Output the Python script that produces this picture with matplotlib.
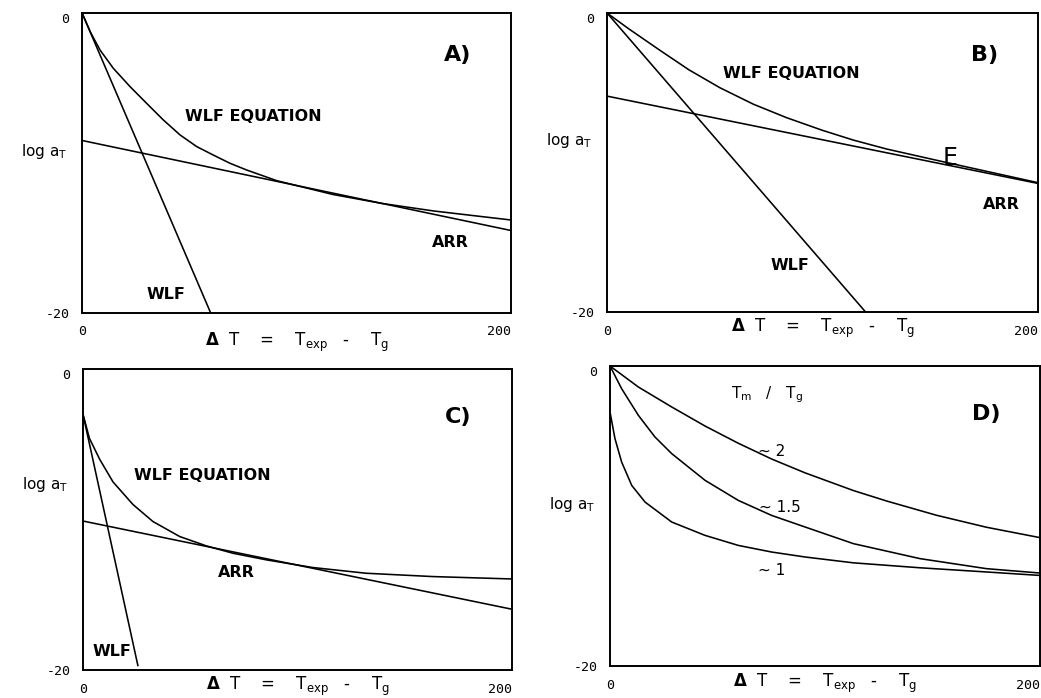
import matplotlib
matplotlib.use("Agg")
import matplotlib.pyplot as plt

# ---------------- data ----------------
# Panel A
a_wlf_x = [0, 60]
a_wlf_y = [0, -20]
a_arr_x = [0, 200]
a_arr_y = [-8.5, -14.5]
a_eq_x = [0, 4, 8.4, 14.6, 22.4, 30.1, 37.9, 45.7, 53.5, 61.2, 69.0, 76.8, 90.8, 117, 140, 164, 200]
a_eq_y = [0, -1.3, -2.47, -3.69, -4.91, -6.02, -7.13, -8.13, -8.91, -9.47, -10.02, -10.47,
          -11.18, -12.1, -12.7, -13.2, -13.8]

# Panel B
b_wlf_x = [0, 120]
b_wlf_y = [0, -20]
b_arr_x = [0, 200]
b_arr_y = [-5.56, -11.4]
b_eq_x = [0, 10, 24.5, 38, 52.4, 67.9, 83.3, 100, 114.3, 129.8, 156, 200]
b_eq_y = [0, -1.05, -2.49, -3.8, -5.0, -6.1, -7.0, -7.85, -8.5, -9.1, -9.95, -11.35]

# Panel C
c_wlf_x = [0, 25.6]
c_wlf_y = [-3.0, -19.7]
c_arr_x = [0, 200]
c_arr_y = [-10.1, -15.96]
c_eq_x = [0, 3, 7.8, 14.0, 23.3, 32.6, 45.1, 57.5, 69.9, 85.5, 107.2, 132, 163, 200]
c_eq_y = [-3.0, -4.6, -6.0, -7.5, -9.0, -10.13, -11.13, -11.75, -12.24, -12.68, -13.19,
          -13.57, -13.79, -13.95]

# Panel D  (T_m / T_g ~ 2, ~ 1.5, ~ 1)
d_x2 = [0, 13.2, 28.7, 44.2, 59.7, 75.2, 90.7, 113.2, 128.7, 151.9, 175.2, 200]
d_y2 = [0, -1.4, -2.73, -4.0, -5.15, -6.2, -7.12, -8.3, -9.0, -9.95, -10.75, -11.44]
d_x15 = [0, 5.4, 13.2, 20.9, 28.7, 44.2, 59.7, 75.2, 90.7, 113.2, 144.2, 175.2, 200]
d_y15 = [0, -1.51, -3.29, -4.73, -5.84, -7.62, -8.96, -9.96, -10.73, -11.84, -12.84, -13.51, -13.8]
d_x1 = [0, 2.3, 5.4, 10.1, 16.3, 28.7, 44.2, 59.7, 75.2, 90.7, 113.2, 144.2, 175.2, 200]
d_y1 = [-3.07, -4.84, -6.4, -7.96, -9.07, -10.4, -11.29, -11.96, -12.4, -12.73, -13.12,
        -13.45, -13.73, -13.96]

y_ticks = [0, -20]
x_ticks = [0, 200]
x_label = r"$\mathbf{\Delta}$  T    =    T$_{\mathrm{exp}}$   -    T$_{\mathrm{g}}$"
y_label = r"log a$_{\mathrm{T}}$"

# ---------------- figure ----------------
fig = plt.figure(figsize=(10.41, 6.98), dpi=100)
positions = {
    "A": [0.0788, 0.5516, 0.412, 0.4298],
    "B": [0.5831, 0.5530, 0.414, 0.4284],
    "C": [0.0797, 0.0401, 0.412, 0.4312],
    "D": [0.5860, 0.0458, 0.413, 0.4298],
}
lw = 1.15
lab_kw = dict(fontsize=11.5, fontweight="bold", ha="center", va="center", color="black")


def setup(ax, ylab_y, xlab_y):
    ax.set_xlim(0, 200)
    ax.set_ylim(-20, 0)
    ax.set_xticks(x_ticks)
    ax.set_yticks(y_ticks)
    ax.set_xticklabels([str(v) for v in x_ticks], fontsize=9.5, family="DejaVu Sans Mono")
    ax.set_yticklabels([str(v) for v in y_ticks], fontsize=9.5, family="DejaVu Sans Mono")
    ax.tick_params(length=0, pad=9)
    ax.get_xticklabels()[-1].set_ha("right")
    ax.get_yticklabels()[0].set_va("top")
    for s in ax.spines.values():
        s.set_linewidth(1.4)
    ax.text(0.5, xlab_y, x_label, transform=ax.transAxes, fontsize=12,
            ha="center", va="center")
    ax.text(-0.035, ylab_y, y_label, transform=ax.transAxes, fontsize=11,
            ha="right", va="center")


axA = fig.add_axes(positions["A"])
axA.plot(a_wlf_x, a_wlf_y, color="black", lw=lw)
axA.plot(a_arr_x, a_arr_y, color="black", lw=lw)
axA.plot(a_eq_x, a_eq_y, color="black", lw=lw)
setup(axA, 0.537, -0.097)
axA.text(80, -6.93, "WLF EQUATION", **lab_kw)
axA.text(39, -18.8, "WLF", **lab_kw)
axA.text(171.6, -15.3, "ARR", **lab_kw)
axA.text(0.875, 0.86, "A)", transform=axA.transAxes, fontsize=16, fontweight="bold",
         ha="center", va="center")

axB = fig.add_axes(positions["B"])
axB.plot(b_wlf_x, b_wlf_y, color="black", lw=lw)
axB.plot(b_arr_x, b_arr_y, color="black", lw=lw)
axB.plot(b_eq_x, b_eq_y, color="black", lw=lw)
setup(axB, 0.575, -0.054)
axB.text(85.4, -4.08, "WLF EQUATION", **lab_kw)
axB.text(85, -16.9, "WLF", **lab_kw)
axB.text(183, -12.8, "ARR", **lab_kw)
axB.text(159, -9.7, "E", fontsize=17, ha="center", va="center")
axB.text(0.875, 0.86, "B)", transform=axB.transAxes, fontsize=16, fontweight="bold",
         ha="center", va="center")

axC = fig.add_axes(positions["C"])
axC.plot(c_wlf_x, c_wlf_y, color="black", lw=lw)
axC.plot(c_arr_x, c_arr_y, color="black", lw=lw)
axC.plot(c_eq_x, c_eq_y, color="black", lw=lw)
setup(axC, 0.615, -0.056)
axC.text(55.5, -7.1, "WLF EQUATION", **lab_kw)
axC.text(71.3, -13.55, "ARR", **lab_kw)
axC.text(13.5, -18.8, "WLF", **lab_kw)
axC.text(0.875, 0.84, "C)", transform=axC.transAxes, fontsize=16, fontweight="bold",
         ha="center", va="center")

axD = fig.add_axes(positions["D"])
axD.plot(d_x2, d_y2, color="black", lw=lw)
axD.plot(d_x15, d_y15, color="black", lw=lw)
axD.plot(d_x1, d_y1, color="black", lw=lw)
setup(axD, 0.537, -0.057)
axD.text(73, -1.93, r"T$_{\mathrm{m}}$   /   T$_{\mathrm{g}}$", fontsize=11, ha="center", va="center")
axD.text(75, -5.73, "~ 2", fontsize=11, ha="center", va="center")
axD.text(79, -9.4, "~ 1.5", fontsize=11, ha="center", va="center")
axD.text(75, -13.6, "~ 1", fontsize=11, ha="center", va="center")
axD.text(0.875, 0.84, "D)", transform=axD.transAxes, fontsize=16, fontweight="bold",
         ha="center", va="center")

fig.savefig("out.png", dpi=100)
